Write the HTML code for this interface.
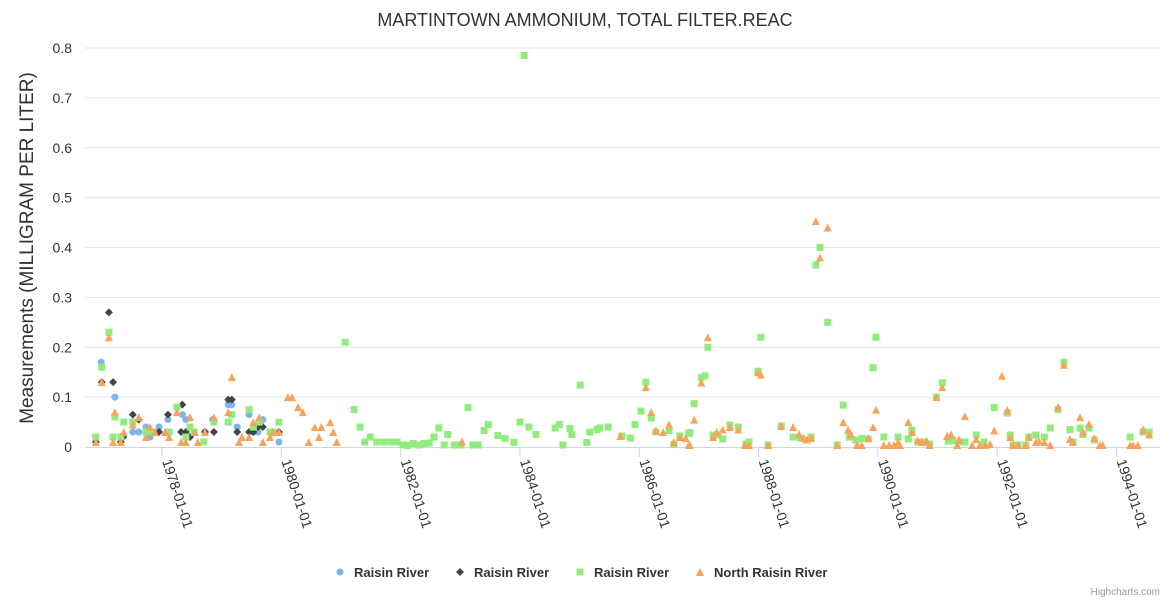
<!DOCTYPE html>
<html><head><meta charset="utf-8"><style>
body{margin:0;background:#fff;font-family:"Liberation Sans",sans-serif;}
svg text{font-family:"Liberation Sans",sans-serif;}
</style></head><body>
<svg id="chart" width="1170" height="600" xmlns="http://www.w3.org/2000/svg">
<rect width="1170" height="600" fill="#fff"/>
<text x="585" y="26" text-anchor="middle" font-size="18" fill="#333">MARTINTOWN AMMONIUM, TOTAL FILTER.REAC</text>
<text transform="translate(33,248) rotate(-90)" text-anchor="middle" font-size="19" fill="#333">Measurements (MILLIGRAM PER LITER)</text>
<g id="grid"></g><g id="axes"></g><g id="marks"></g><g id="legend"></g>
<text x="1160" y="595" text-anchor="end" font-size="10" fill="#999">Highcharts.com</text>
</svg>
<script>
const yTicks=[0,0.1,0.2,0.3,0.4,0.5,0.6,0.7,0.8];
const xTickYears=[1978,1980,1982,1984,1986,1988,1990,1992,1994];
const xTickLabels=["1978-01-01","1980-01-01","1982-01-01","1984-01-01","1986-01-01","1988-01-01","1990-01-01","1992-01-01","1994-01-01"];
const seriesNames=["Raisin River","Raisin River","Raisin River","North Raisin River"];
const blueX=[1976.98,1977.21,1977.51,1977.61,1977.73,1977.80,1977.95,1978.10,1978.34,1978.40,1978.72,1978.85,1979.11,1979.17,1979.26,1979.46,1979.53,1979.61,1979.69,1979.96];
const blueY=[0.17,0.10,0.03,0.03,0.04,0.02,0.04,0.055,0.065,0.055,0.03,0.055,0.085,0.085,0.04,0.065,0.03,0.03,0.055,0.01];
const blackX=[1976.89,1976.99,1977.11,1977.18,1977.31,1977.35,1977.51,1977.61,1977.95,1978.10,1978.32,1978.34,1978.40,1978.47,1978.72,1978.87,1979.11,1979.17,1979.26,1979.46,1979.53,1979.61,1979.69,1979.96];
const blackY=[0.01,0.13,0.27,0.13,0.01,0.02,0.065,0.055,0.03,0.065,0.03,0.085,0.03,0.02,0.03,0.03,0.095,0.095,0.03,0.03,0.03,0.04,0.04,0.03];
const greenX=[1976.89,1976.99,1977.11,1977.18,1977.21,1977.31,1977.36,1977.51,1977.73,1977.85,1978.12,1978.25,1978.40,1978.47,1978.54,1978.70,1978.87,1979.11,1979.17,1979.46,1979.53,1979.63,1979.81,1979.86,1979.96,1981.07,1981.22,1981.32,1981.40,1981.49,1981.60,1981.72,1981.84,1981.94,1982.04,1982.12,1982.21,1982.31,1982.39,1982.48,1982.56,1982.64,1982.73,1982.79,1982.90,1983.01,1983.13,1983.21,1983.30,1983.40,1983.47,1983.63,1983.75,1983.90,1984.00,1984.07,1984.15,1984.27,1984.59,1984.66,1984.72,1984.84,1984.87,1985.01,1985.12,1985.17,1985.29,1985.34,1985.48,1985.71,1985.85,1985.93,1986.03,1986.11,1986.20,1986.28,1986.50,1986.58,1986.68,1986.83,1986.85,1986.92,1987.04,1987.10,1987.15,1987.24,1987.32,1987.40,1987.52,1987.66,1987.79,1987.84,1987.99,1988.04,1988.16,1988.38,1988.58,1988.70,1988.88,1988.96,1989.03,1989.16,1989.32,1989.42,1989.52,1989.63,1989.73,1989.84,1989.92,1989.97,1990.10,1990.34,1990.51,1990.57,1990.67,1990.74,1990.75,1990.87,1990.98,1991.08,1991.18,1991.26,1991.41,1991.46,1991.65,1991.78,1991.95,1992.17,1992.22,1992.27,1992.35,1992.48,1992.53,1992.65,1992.79,1992.89,1993.02,1993.12,1993.22,1993.27,1993.39,1993.44,1993.54,1993.63,1994.23,1994.45,1994.55];
const greenY=[0.02,0.16,0.23,0.02,0.06,0.02,0.05,0.05,0.03,0.03,0.03,0.08,0.02,0.04,0.03,0.01,0.05,0.05,0.065,0.075,0.04,0.05,0.03,0.03,0.05,0.21,0.075,0.04,0.01,0.02,0.01,0.01,0.01,0.01,0.004,0.003,0.007,0.004,0.007,0.008,0.02,0.038,0.004,0.025,0.004,0.004,0.079,0.004,0.004,0.033,0.045,0.023,0.017,0.009,0.05,0.785,0.04,0.025,0.038,0.045,0.004,0.037,0.025,0.124,0.009,0.03,0.035,0.038,0.04,0.022,0.018,0.045,0.072,0.13,0.058,0.03,0.033,0.005,0.022,0.027,0.029,0.087,0.139,0.143,0.2,0.024,0.024,0.016,0.044,0.04,0.006,0.01,0.152,0.22,0.004,0.042,0.02,0.018,0.02,0.365,0.4,0.25,0.004,0.084,0.02,0.014,0.017,0.016,0.159,0.22,0.02,0.02,0.016,0.034,0.01,0.01,0.01,0.006,0.1,0.129,0.012,0.013,0.01,0.01,0.024,0.01,0.079,0.068,0.024,0.004,0.004,0.004,0.02,0.024,0.02,0.038,0.075,0.17,0.035,0.01,0.038,0.025,0.038,0.014,0.02,0.03,0.03];
const orangeX=[1976.89,1976.99,1977.11,1977.18,1977.21,1977.31,1977.36,1977.51,1977.61,1977.73,1977.80,1977.88,1978.05,1978.12,1978.25,1978.32,1978.40,1978.47,1978.55,1978.60,1978.72,1978.87,1979.11,1979.17,1979.29,1979.34,1979.46,1979.53,1979.63,1979.69,1979.81,1979.86,1979.96,1980.11,1980.18,1980.28,1980.36,1980.46,1980.56,1980.63,1980.67,1980.82,1980.87,1980.93,1983.03,1985.68,1986.11,1986.20,1986.28,1986.40,1986.50,1986.58,1986.68,1986.78,1986.83,1986.85,1986.92,1987.04,1987.15,1987.24,1987.30,1987.40,1987.52,1987.66,1987.77,1987.84,1988.16,1987.99,1988.04,1988.38,1988.58,1988.68,1988.76,1988.81,1988.88,1988.96,1989.03,1989.16,1989.32,1989.42,1989.50,1989.55,1989.65,1989.73,1989.84,1989.92,1989.97,1990.10,1990.19,1990.27,1990.34,1990.37,1990.51,1990.57,1990.67,1990.74,1990.82,1990.87,1990.98,1991.08,1991.16,1991.23,1991.33,1991.36,1991.46,1991.58,1991.65,1991.71,1991.80,1991.88,1991.95,1992.08,1992.17,1992.22,1992.27,1992.35,1992.48,1992.53,1992.65,1992.70,1992.79,1992.89,1993.02,1993.12,1993.22,1993.27,1993.39,1993.44,1993.54,1993.63,1993.72,1993.77,1994.23,1994.28,1994.36,1994.45,1994.55];
const orangeY=[0.01,0.13,0.22,0.01,0.07,0.01,0.03,0.045,0.06,0.02,0.04,0.03,0.03,0.02,0.07,0.01,0.01,0.06,0.03,0.01,0.03,0.06,0.07,0.14,0.01,0.02,0.02,0.05,0.06,0.01,0.02,0.03,0.03,0.1,0.1,0.08,0.07,0.01,0.04,0.02,0.04,0.05,0.03,0.01,0.011,0.022,0.12,0.07,0.033,0.03,0.045,0.01,0.02,0.018,0.004,0.004,0.055,0.129,0.22,0.02,0.03,0.035,0.04,0.035,0.004,0.004,0.004,0.15,0.145,0.042,0.04,0.026,0.018,0.015,0.018,0.453,0.38,0.44,0.004,0.05,0.035,0.026,0.004,0.004,0.018,0.04,0.075,0.004,0.004,0.004,0.01,0.004,0.05,0.03,0.013,0.01,0.012,0.004,0.1,0.12,0.022,0.025,0.004,0.015,0.062,0.004,0.016,0.004,0.004,0.006,0.033,0.143,0.074,0.02,0.004,0.004,0.004,0.02,0.01,0.012,0.01,0.004,0.08,0.165,0.016,0.01,0.06,0.03,0.046,0.018,0.004,0.004,0.004,0.004,0.004,0.035,0.025];

const L=85,R=1160,T=48,B=447;
const X0=1976.709,X1=1994.73,YMAX=0.8;
const xs=v=>L+(v-X0)/(X1-X0)*(R-L);
const ys=v=>B-v/YMAX*(B-T);
const NS="http://www.w3.org/2000/svg";
function mk(tag,attrs,parent){const e=document.createElementNS(NS,tag);for(const k in attrs)e.setAttribute(k,attrs[k]);parent.appendChild(e);return e;}
const grid=document.getElementById('grid'),axes=document.getElementById('axes'),marks=document.getElementById('marks'),legend=document.getElementById('legend');
yTicks.forEach(t=>{
  if(t>0){const g=mk('line',{x1:L,x2:R,y1:ys(t),y2:ys(t),stroke:'#e6e6e6','stroke-width':1},grid);
  
  }
  const tx=mk('text',{x:72,y:ys(t)+5,'text-anchor':'end','font-size':14,fill:'#333'},axes);
  tx.textContent=String(t);
  
  
});
const ax=mk('line',{x1:L,x2:R,y1:B+0.5,y2:B+0.5,stroke:'#ccd6eb','stroke-width':1},axes);


xTickYears.forEach((yr,i)=>{
  const x=xs(yr);
  const tk=mk('line',{x1:x,x2:x,y1:B,y2:B+10,stroke:'#ccd6eb'},axes);
  
  
  const tx=mk('text',{x:x,y:B+14,'font-size':14,fill:'#333',transform:`rotate(72 ${x} ${B+14})`},axes);
  tx.textContent=xTickLabels[i];
  
  
});
function marker(type,x,y,parent){
  if(type===0)return mk('circle',{cx:x,cy:y,r:3.5,fill:'#7cb5ec'},parent);
  if(type===1)return mk('path',{d:`M${x} ${y-4}L${x+4} ${y}L${x} ${y+4}L${x-4} ${y}Z`,fill:'#434348'},parent);
  if(type===2)return mk('rect',{x:x-3.5,y:y-3.5,width:7,height:7,fill:'#90ed7d'},parent);
  return mk('path',{d:`M${x} ${y-4}L${x+4} ${y+4}L${x-4} ${y+4}Z`,fill:'#f7a35c'},parent);
}
const sets=[[blueX,blueY],[blackX,blackY],[greenX,greenY],[orangeX,orangeY]];
sets.forEach((s,k)=>{
  const g=mk('g',{},marks);
  
  
  s[0].forEach((xv,i)=>{
    const m=marker(k,xs(xv),ys(s[1][i]),g);
    
    
  });
});
const legX=[340,460,580,700];
seriesNames.forEach((n,k)=>{
  const g=mk('g',{},legend);
  
  
  marker(k,legX[k],572,g);
  const t=mk('text',{x:legX[k]+14,y:577,'font-size':13,'font-weight':'bold',fill:'#333'},g);
  t.textContent=n;
});
</script>
</body></html>
